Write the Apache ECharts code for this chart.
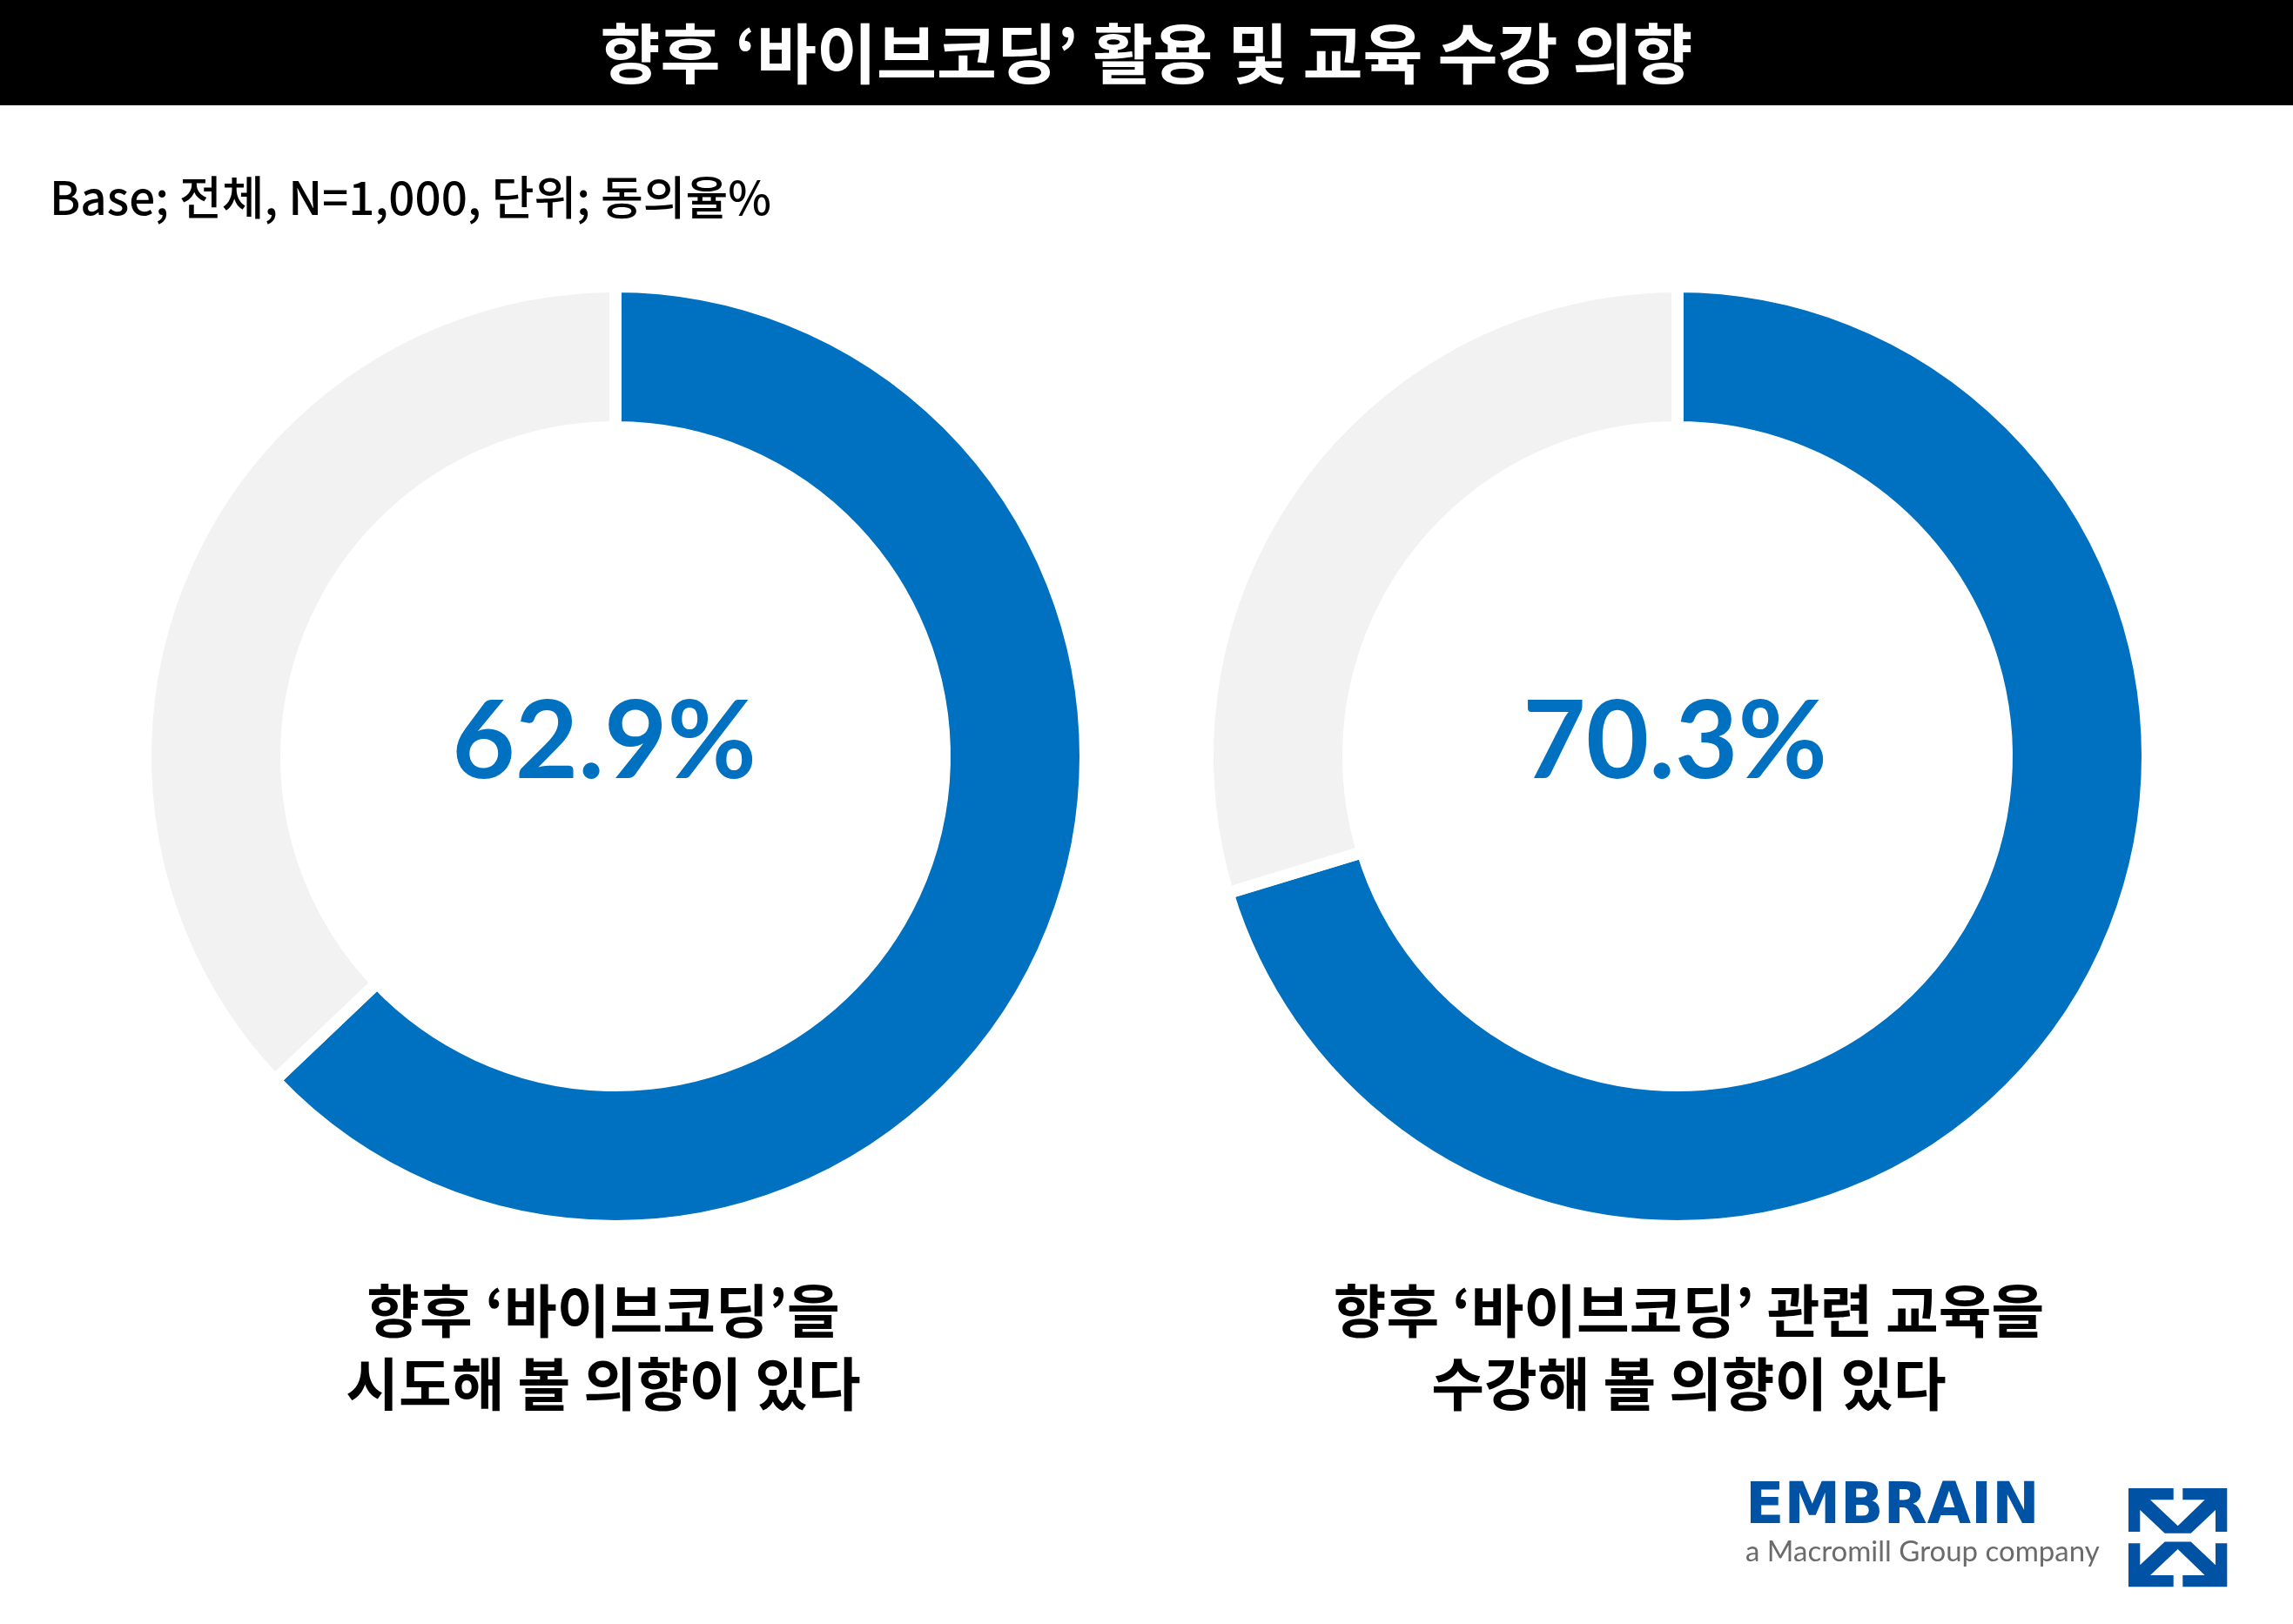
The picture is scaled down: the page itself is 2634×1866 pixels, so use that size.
<!DOCTYPE html>
<html>
<head>
<meta charset="utf-8">
<style>
  html, body { margin: 0; padding: 0; background: #fff; }
  #chart { width: 2634px; height: 1866px; }
</style>
<script src="https://cdn.jsdelivr.net/npm/echarts@6/dist/echarts.min.js"></script>
</head>
<body>
<div id="chart"></div>
<script>
// data
const questions = [
  "향후 ‘바이브코딩’을\n시도해 볼 의향이 있다",
  "향후 ‘바이브코딩’ 관련 교육을\n수강해 볼 의향이 있다"
];
const agreeRates = [62.9, 70.3];

// layout
const donutCenters = [[707, 869], [1927, 869]];
const labelCenters = [693, 1940];
const numberCenters = [694, 1924];
const BLUE = "#0070C0";
const GREY = "#F2F2F2";
const KR = "'Noto Sans CJK KR', 'Noto Sans', sans-serif";

var chart = echarts.init(document.getElementById("chart"), null, { renderer: "canvas" });

var series = agreeRates.map(function (v, i) {
  return {
    type: "pie",
    center: donutCenters[i],
    radius: [378, 540],
    startAngle: 90,
    clockwise: true,
    silent: true,
    animation: false,
    label: { show: false },
    labelLine: { show: false },
    itemStyle: { borderColor: "#fff", borderWidth: 14 },
    data: [
      { value: v, name: "동의", itemStyle: { color: BLUE } },
      { value: +(100 - v).toFixed(1), name: "기타", itemStyle: { color: GREY } }
    ]
  };
});

// logo mark, drawn in a 0..113 box
var markTop = [[0,0],[51.7,0],[51.7,13.3],[25,13.3],[56.7,43.3],[87.7,13.3],[62.3,13.3],[62.3,0],
  [113.3,0],[113.3,50],[100,50],[100,25],[71.7,51.7],[41.7,51.7],[13.3,25],[13.3,50],[0,50]];
var markBottom = markTop.map(function (p) { return [p[0], 113.3 - p[1]]; });

var graphics = [
  { type: "rect", shape: { x: 0, y: 0, width: 2634, height: 121 }, style: { fill: "#000" } },
  {
    type: "text", x: 1317, y: 61,
    style: {
      text: "향후 ‘바이브코딩’ 활용 및 교육 수강 의향",
      fill: "#fff", font: "bold 75px " + KR, align: "center", verticalAlign: "middle"
    }
  },
  {
    type: "text", x: 57, y: 227,
    style: {
      text: "Base; 전체, N=1,000, 단위; 동의율%",
      fill: "#000", font: "500 53px " + KR, align: "left", verticalAlign: "middle"
    }
  },
  {
    type: "group", x: 2445, y: 1710,
    children: [
      { type: "polygon", shape: { points: markTop }, style: { fill: "#0052A4" } },
      { type: "polygon", shape: { points: markBottom }, style: { fill: "#0052A4" } }
    ]
  },
  {
    type: "text", x: 2005, y: 1733,
    style: {
      text: "EMBRAIN", fill: "#0052A4",
      font: "bold 65px 'DejaVu Sans', sans-serif", align: "left", verticalAlign: "middle"
    }
  },
  {
    type: "text", x: 2005, y: 1783,
    style: {
      text: "a Macromill Group company", fill: "#6b6b6b",
      font: "33px Lato, sans-serif", align: "left", verticalAlign: "middle"
    }
  }
];

agreeRates.forEach(function (v, i) {
  graphics.push({
    type: "text", x: numberCenters[i], y: 854,
    style: {
      text: v.toFixed(1) + "%", fill: BLUE,
      font: "bold 125px Lato, sans-serif", align: "center", verticalAlign: "middle"
    }
  });
  graphics.push({
    type: "text", x: labelCenters[i], y: 1548,
    style: {
      text: questions[i], fill: "#000",
      font: "bold 66px " + KR, lineHeight: 84, align: "center", verticalAlign: "middle"
    }
  });
});

var option = {
  backgroundColor: "#fff",
  animation: false,
  series: series,
  graphic: graphics
};

option && chart.setOption(option);
</script>
</body>
</html>
